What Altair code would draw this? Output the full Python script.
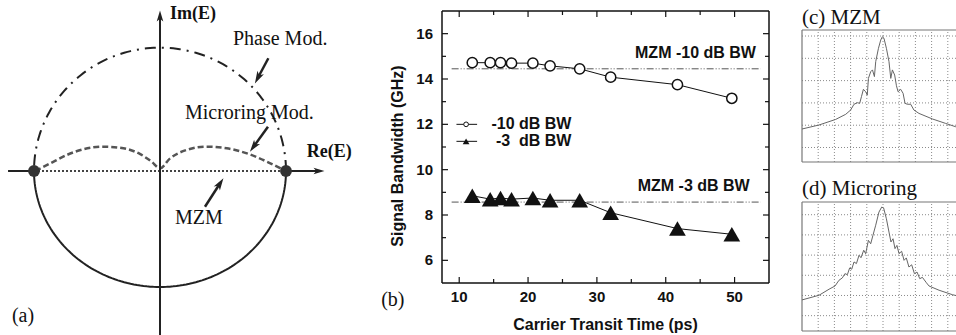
import altair as alt
import numpy as np
import pandas as pd

SANS = "Liberation Sans"
SERIF = "Liberation Serif"
INK = "#111111"

# ---------------- panel (b) data ----------------
transit = [11.9, 14.5, 16.0, 17.6, 20.7, 23.2, 27.5, 32.0, 41.7, 49.6]
bw10 = [14.72, 14.72, 14.72, 14.70, 14.70, 14.58, 14.45, 14.08, 13.75, 13.15]
bw3 = [8.85, 8.70, 8.75, 8.70, 8.75, 8.65, 8.65, 8.10, 7.40, 7.15]
mzm10 = 14.45
mzm3 = 8.57
xmaj = [10, 20, 30, 40, 50]
xmin = [15, 25, 35, 45]
ymaj = [6, 8, 10, 12, 14, 16]
ymin = [7, 9, 11, 13, 15]
legend_labels = ["-10 dB BW", "-3\u00a0\u00a0dB BW"]
mzm_labels = ["MZM -10 dB BW", "MZM -3 dB BW"]
x_title = "Carrier Transit Time (ps)"
y_title = "Signal Bandwidth (GHz)"

# ---------------- panels (c), (d) spectra (grid divisions) ----------------
c_x = [-5.0, -3.95, -2.92, -2.30, -2.0, -1.79, -1.58, -1.44, -1.33, -1.21, -1.07, -0.97,
       -0.90, -0.76, -0.65, -0.53, -0.45, -0.28, -0.14, -0.04, 0.06, 0.21, 0.37, 0.48,
       0.58, 0.72, 0.83, 0.93, 1.09, 1.24, 1.36, 1.50, 1.71, 1.91, 2.22, 3.05, 3.87, 4.49,
       5.0]
c_y = [-4.17, -3.99, -3.74, -3.51, -3.32, -3.06, -2.99, -3.02, -2.72, -2.39, -2.50, -2.65,
       -1.90, -1.60, -1.52, -1.82, -1.15, -0.55, -0.18, -0.03, -0.10, -0.55, -1.15, -1.90,
       -1.52, -1.75, -2.23, -2.50, -2.39, -2.57, -3.02, -3.06, -3.06, -3.32, -3.47, -3.72,
       -3.92, -4.07, -4.15]
d_x = [-5.0, -3.95, -3.33, -2.96, -2.72, -2.51, -2.35, -2.20, -2.06, -1.93, -1.79, -1.64,
       -1.48, -1.36, -1.19, -1.07, -0.90, -0.76, -0.62, -0.45, -0.25, -0.08, 0.04, 0.21,
       0.37, 0.49, 0.62, 0.74, 0.86, 0.99, 1.15, 1.30, 1.44, 1.60, 1.77, 1.94, 2.10, 2.27,
       2.43, 2.68, 2.84, 3.46, 4.28, 5.0]
d_y = [-4.22, -3.99, -3.69, -3.53, -3.25, -3.13, -2.92, -2.97, -2.64, -2.70, -2.34, -2.42,
       -2.01, -2.13, -1.76, -1.93, -1.27, -1.44, -1.02, -0.52, 0.13, 0.38, 0.33, -0.20,
       -0.86, -1.35, -1.19, -1.68, -1.52, -1.93, -1.81, -2.26, -2.14, -2.59, -2.48, -2.92,
       -2.84, -3.17, -3.10, -3.37, -3.53, -3.74, -3.96, -4.10]
spec_gx = [-4, -3, -2, -1, 0, 1, 2, 3, 4]
spec_gy = [0, -1, -2, -3, -4, -5]
spec_titles = ["(c) MZM", "(d) Microring"]

# ---------------- panel (a) schematic ----------------
mr_x = [-0.99, -0.87, -0.74, -0.61, -0.45, -0.29, -0.16, -0.066, 0.0, 0.08, 0.21, 0.37,
        0.53, 0.69, 0.85, 0.98]
mr_y = [0.0, 0.066, 0.138, 0.187, 0.21, 0.196, 0.147, 0.08, 0.023, 0.109, 0.181, 0.21,
        0.196, 0.152, 0.08, 0.01]
phase_top = 1.063
a_plain = ["Phase Mod.", "Microring Mod.", "MZM", "(a)"]
a_bold = ["Im(E)", "Re(E)"]

ARROW = "M1,0L-1,-0.6L-0.5,0L-1,0.6Z"

# ======================= panel (a) =======================
SXA = alt.Scale(domain=[-1, 1], range=[34, 286], nice=False, zero=False)
SYA = alt.Scale(domain=[-1, 1], range=[287, 55], nice=False, zero=False)


def xa(f="x"):
    return alt.X(f + ":Q", scale=SXA, axis=None)


def ya(f="y"):
    return alt.Y(f + ":Q", scale=SYA, axis=None)


t = np.linspace(0, np.pi, 121)
upper = pd.DataFrame({"x": np.cos(t), "y": phase_top * np.sin(t), "i": np.arange(len(t))})
lower = pd.DataFrame({"x": np.cos(t), "y": -np.sin(t), "i": np.arange(len(t))})
micro = pd.DataFrame({"x": mr_x, "y": mr_y})
mzm_line = pd.DataFrame({"x": [-1.0, 1.0], "y": [0.0, 0.0]})
axes_df = pd.DataFrame({"x": [-1.206, -1.0, 1.0, 1.262, 0.0, 0.0],
                        "y": [0.0, 0.0, 0.0, 0.0, -1.414, 1.336],
                        "g": ["hl", "hl", "hr", "hr", "v", "v"], "i": [0, 1, 0, 1, 0, 1]})
axis_heads = pd.DataFrame({"x": [1.262, 0.0], "y": [0.0, 1.336], "ang": [0, 270]})
pointers = pd.DataFrame({"x": [0.860, 0.857, 0.357], "y": [0.972, 0.382, -0.308],
                         "x2": [0.776, 0.742, 0.477], "y2": [0.802, 0.209, -0.106],
                         "ang": [118, 125.8, 302.8]})
dots = pd.DataFrame({"x": [-1.0, 1.0], "y": [0.0, 0.0]})
a_text_plain = pd.DataFrame({"x": [0.579, 0.198, 0.119, -1.175],
                             "y": [1.14, 0.50, -0.405, -1.25], "t": a_plain})
a_text_bold = pd.DataFrame({"x": [0.079, 1.165], "y": [1.353, 0.164], "t": a_bold})

pa = alt.layer(
    alt.Chart(upper).mark_line(color="#222", strokeWidth=2, strokeDash=[11, 6, 2, 6]).encode(
        x=xa(), y=ya(), order="i:Q"),
    alt.Chart(lower).mark_line(color="#222", strokeWidth=2).encode(x=xa(), y=ya(), order="i:Q"),
    alt.Chart(micro).mark_line(color="#555", strokeWidth=2.5, strokeDash=[6, 3],
                               interpolate="monotone").encode(x=xa(), y=ya()),
    alt.Chart(mzm_line).mark_line(color="#444", strokeWidth=2, strokeDash=[2, 2]).encode(
        x=xa(), y=ya()),
    alt.Chart(axes_df).mark_line(color="#222", strokeWidth=2).encode(
        x=xa(), y=ya(), detail="g:N", order="i:Q"),
    alt.Chart(axis_heads).mark_point(shape=ARROW, filled=True, color="#222", size=120,
                                     opacity=1).encode(
        x=xa(), y=ya(), angle=alt.Angle("ang:Q", scale=None)),
    alt.Chart(pointers).mark_rule(color="#222", strokeWidth=2.5).encode(
        x=xa(), y=ya(), x2="x2:Q", y2="y2:Q"),
    alt.Chart(pointers).mark_point(shape=ARROW, filled=True, color="#222", size=150,
                                   opacity=1).encode(
        x=xa("x2"), y=ya("y2"), angle=alt.Angle("ang:Q", scale=None)),
    alt.Chart(dots).mark_circle(color="#333", size=140, opacity=1).encode(x=xa(), y=ya()),
    alt.Chart(a_text_plain).mark_text(font=SERIF, fontSize=20, align="left",
                                      baseline="middle", color=INK).encode(
        x=xa(), y=ya(), text="t:N"),
    alt.Chart(a_text_bold).mark_text(font=SERIF, fontSize=18, fontWeight="bold", align="left",
                                     baseline="middle", color=INK).encode(
        x=xa(), y=ya(), text="t:N"),
)

# ======================= panel (b) =======================
SXB = alt.Scale(domain=[7.5, 55], range=[442, 769], nice=False, zero=False)
SYB = alt.Scale(domain=[5, 17], range=[283, 11], nice=False, zero=False)


def xb(f="x"):
    return alt.X(f + ":Q", scale=SXB, axis=None)


def yb(f="y"):
    return alt.Y(f + ":Q", scale=SYB, axis=None)


s10 = pd.DataFrame({"x": transit, "y": bw10})
s3 = pd.DataFrame({"x": transit, "y": bw3})
ref_df = pd.DataFrame({"x": [8.9, 8.9], "x2": [53.8, 53.8], "y": [mzm10, mzm3]})
leg_line = pd.DataFrame({"x": [9.6, 12.6, 9.6, 12.6], "y": [12.0, 12.0, 11.25, 11.25],
                         "g": ["a", "a", "b", "b"]})
leg_circ = pd.DataFrame({"x": [11.0], "y": [12.0]})
leg_tri = pd.DataFrame({"x": [11.0], "y": [11.25]})
leg_txt = pd.DataFrame({"x": [26.3, 26.3], "y": [12.0, 11.25], "t": legend_labels})
mzm_txt = pd.DataFrame({"x": [53.1, 52.2], "y": [14.91, 9.04], "t": mzm_labels})
b_lab = pd.DataFrame({"x": [-1.34], "y": [4.24], "t": ["(b)"]})
frame_h = pd.DataFrame({"x": [7.5, 7.5], "x2": [55.0, 55.0], "y": [5.0, 17.0]})
frame_v = pd.DataFrame({"x": [7.5, 55.0], "y": [5.0, 5.0], "y2": [17.0, 17.0]})
xlab = pd.DataFrame({"x": xmaj, "y": 5.0})
ylab = pd.DataFrame({"x": 7.5, "y": ymaj})
xtit = pd.DataFrame({"x": [31.25], "y": [3.13], "t": [x_title]})
ytit = pd.DataFrame({"x": [1.12], "y": [10.6], "t": [y_title]})


def tick(df, orient, size, xo=0, yo=0):
    return alt.Chart(df).mark_tick(orient=orient, size=size, thickness=1.2, color=INK,
                                   xOffset=xo, yOffset=yo, opacity=1).encode(x=xb(), y=yb())


pb = alt.layer(
    alt.Chart(ref_df).mark_rule(color="#555", strokeWidth=1, strokeDash=[7, 2, 1, 2, 1, 2]).encode(
        x=xb(), x2="x2:Q", y=yb()),
    alt.Chart(s10).mark_line(color=INK, strokeWidth=1).encode(x=xb(), y=yb()),
    alt.Chart(s3).mark_line(color=INK, strokeWidth=1).encode(x=xb(), y=yb()),
    alt.Chart(s10).mark_point(shape="circle", filled=True, fill="white", stroke=INK,
                              strokeWidth=1.5, size=105, opacity=1).encode(x=xb(), y=yb()),
    alt.Chart(s3).mark_point(shape="triangle-up", filled=True, color=INK, size=280,
                             opacity=1).encode(x=xb(), y=yb()),
    alt.Chart(leg_line).mark_line(color=INK, strokeWidth=1).encode(x=xb(), y=yb(), detail="g:N"),
    alt.Chart(leg_circ).mark_point(shape="circle", filled=True, fill="white", stroke=INK,
                                   strokeWidth=1, size=22, opacity=1).encode(x=xb(), y=yb()),
    alt.Chart(leg_tri).mark_point(shape="triangle-up", filled=True, color=INK, size=45,
                                  opacity=1).encode(x=xb(), y=yb()),
    alt.Chart(leg_txt).mark_text(font=SANS, fontSize=16, fontWeight="bold", align="right",
                                 baseline="middle", color=INK).encode(x=xb(), y=yb(), text="t:N"),
    alt.Chart(mzm_txt).mark_text(font=SANS, fontSize=16, fontWeight="bold", align="right",
                                 baseline="alphabetic", color=INK).encode(x=xb(), y=yb(), text="t:N"),
    alt.Chart(b_lab).mark_text(font=SERIF, fontSize=20, align="left", baseline="middle",
                               color=INK).encode(x=xb(), y=yb(), text="t:N"),
    alt.Chart(frame_h).mark_rule(color=INK, strokeWidth=1.5).encode(x=xb(), x2="x2:Q", y=yb()),
    alt.Chart(frame_v).mark_rule(color=INK, strokeWidth=1.5).encode(x=xb(), y=yb(), y2="y2:Q"),
    tick(pd.DataFrame({"x": 7.5, "y": ymaj}), "horizontal", 6, xo=3),
    tick(pd.DataFrame({"x": 55.0, "y": ymaj}), "horizontal", 6, xo=-3),
    tick(pd.DataFrame({"x": 7.5, "y": ymin}), "horizontal", 4, xo=2),
    tick(pd.DataFrame({"x": 55.0, "y": ymin}), "horizontal", 4, xo=-2),
    tick(pd.DataFrame({"x": xmaj, "y": 5.0}), "vertical", 6, yo=-3),
    tick(pd.DataFrame({"x": xmaj, "y": 17.0}), "vertical", 6, yo=3),
    tick(pd.DataFrame({"x": xmin, "y": 5.0}), "vertical", 4, yo=-2),
    tick(pd.DataFrame({"x": xmin, "y": 17.0}), "vertical", 4, yo=2),
    alt.Chart(xlab).mark_text(font=SANS, fontSize=15, fontWeight="bold", align="center",
                              baseline="middle", dy=14, color=INK).encode(
        x=xb(), y=yb(), text=alt.Text("x:Q", format="d")),
    alt.Chart(ylab).mark_text(font=SANS, fontSize=15, fontWeight="bold", align="right",
                              baseline="middle", dx=-9, color=INK).encode(
        x=xb(), y=yb(), text=alt.Text("y:Q", format="d")),
    alt.Chart(xtit).mark_text(font=SANS, fontSize=16, fontWeight="bold", align="center",
                              baseline="middle", color=INK).encode(x=xb(), y=yb(), text="t:N"),
    alt.Chart(ytit).mark_text(font=SANS, fontSize=16, fontWeight="bold", align="center",
                              baseline="middle", angle=270, color=INK).encode(
        x=xb(), y=yb(), text="t:N"),
)

# ======================= panels (c), (d) =======================
FRAME = "#777777"
GRID = "#8a8a8a"


def spectrum(xs, ys, yrange, ydom, title, title_y):
    sx = alt.Scale(domain=[-5, 5], range=[802, 964], nice=False, zero=False)
    sy = alt.Scale(domain=ydom, range=yrange, nice=False, zero=False)
    X = lambda f="x": alt.X(f + ":Q", scale=sx, axis=None)
    Y = lambda f="y": alt.Y(f + ":Q", scale=sy, axis=None)
    curve = pd.DataFrame({"x": xs, "y": ys})
    gv = pd.DataFrame({"x": spec_gx, "y": ydom[0], "y2": ydom[1]})
    gh = pd.DataFrame({"x": -5.0, "x2": 5.0, "y": spec_gy})
    fh = pd.DataFrame({"x": [-5.0, -5.0], "x2": [5.0, 5.0], "y": ydom})
    fv = pd.DataFrame({"x": [-5.0], "y": [ydom[0]], "y2": [ydom[1]]})
    tt = pd.DataFrame({"x": [-5.0], "y": [title_y], "t": [title]})
    return alt.layer(
        alt.Chart(gv).mark_rule(color=GRID, strokeWidth=1, strokeDash=[1, 2]).encode(
            x=X(), y=Y(), y2="y2:Q"),
        alt.Chart(gh).mark_rule(color=GRID, strokeWidth=1, strokeDash=[1, 2]).encode(
            x=X(), x2="x2:Q", y=Y()),
        alt.Chart(fh).mark_rule(color=FRAME, strokeWidth=1.2).encode(x=X(), x2="x2:Q", y=Y()),
        alt.Chart(fv).mark_rule(color=FRAME, strokeWidth=1.2).encode(x=X(), y=Y(), y2="y2:Q"),
        alt.Chart(curve).mark_line(color="#666", strokeWidth=1).encode(x=X(), y=Y()),
        alt.Chart(tt).mark_text(font=SERIF, fontSize=21, align="left", baseline="alphabetic",
                                color=INK).encode(x=X(), y=Y(), text="t:N"),
    )


pc = spectrum(c_x, c_y, [162, 30], [-5.65, 0.27], spec_titles[0], 0.54)
pdd = spectrum(d_x, d_y, [331, 202], [-5.76, 0.63], spec_titles[1], 0.977)

chart = alt.layer(pa, pb, pc, pdd).resolve_scale(
    x="independent", y="independent"
).properties(
    width=956, height=335, padding=0, background="white",
    autosize=alt.AutoSizeParams(type="none"),
).configure_view(stroke="transparent")

chart.save("out.html", embed_options={"renderer": "svg", "actions": False})
